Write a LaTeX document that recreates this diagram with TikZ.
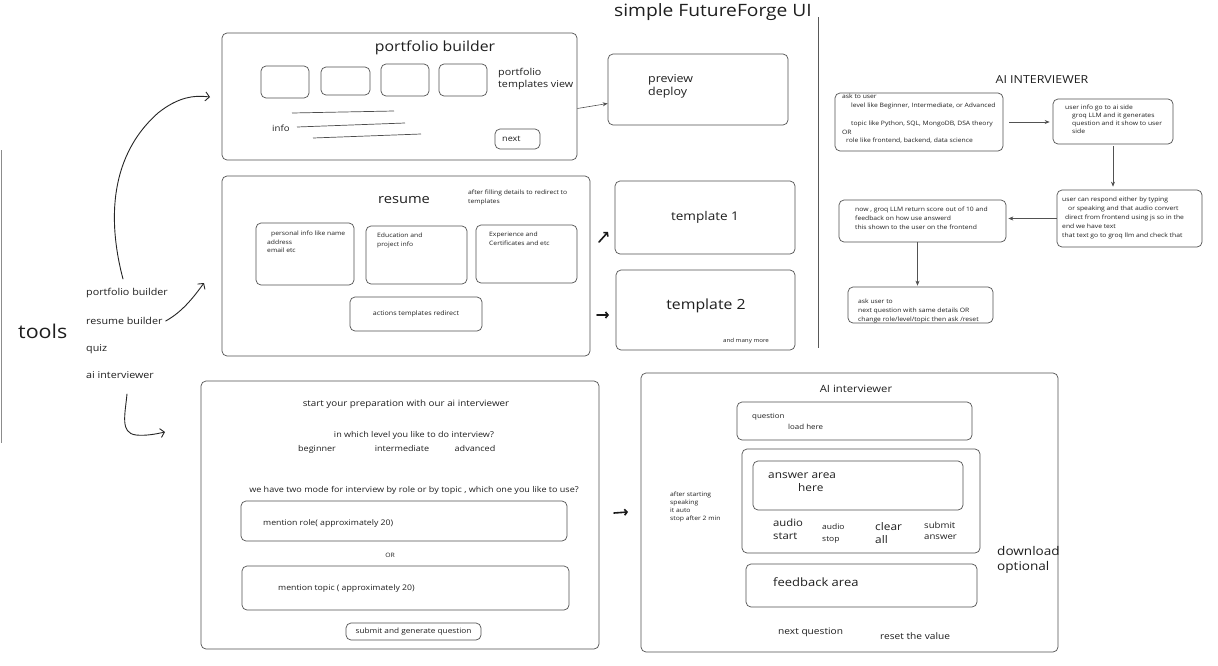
\documentclass[tikz,border=0pt]{standalone}
\usepackage{fontspec}
\setmainfont{Open Sans}[FakeStretch=1.13]
\usetikzlibrary{fit,arrows.meta,calc}
\newcommand\fsz[2]{\fontsize{#1}{#2}\selectfont}
\tikzset{
  box/.style={draw=black!68, line width=0.7pt, rounded corners=5pt, inner sep=0pt},
  t/.style={inner sep=0pt, text=black!88},
  ml/.style={t, align=left, anchor=north west},
  arr/.style={draw=black!68, line width=0.6pt, -{Stealth[length=5pt,width=4pt]}},
  hand/.style={draw=black!85, line width=0.9pt, line cap=round, -{Straight Barb[length=4pt,width=9pt]}},
  tinyarr/.style={draw=black!90, line width=1.6pt, line cap=round, -{Straight Barb[length=2.5pt,width=6pt]}},
  sepline/.style={draw=black!65, line width=0.6pt}
}
\begin{document}
\begin{tikzpicture}[x=1pt,y=-1pt]
\useasboundingbox (0,0) rectangle (1218,665);
\fill[white] (0,0) rectangle (1218,665);

% title and separators
\node[t, font=\fsz{17}{20}] (title) at (713,12) {simple FutureForge UI};
\draw[sepline] (818,17) -- (818,348);
\draw[draw=black!45, line width=0.6pt] (1,150) -- (1,443);

% ---------- portfolio builder ----------
\node[box, fit={(222,33)(577,160)}] (pf) {};
\node[t, font=\fsz{14}{16}] (pftitle) at (435,48) {portfolio builder};
\node[box, fit={(261,66)(309,98)}] (pfa) {};
\node[box, fit={(321,67)(370,95)}] (pfb) {};
\node[box, fit={(381,64)(429,96)}] (pfc) {};
\node[box, fit={(439,64)(487,96)}] (pfd) {};
\node[ml, font=\fsz{9.5}{12}] (pfview) at (498,68.5) {portfolio\\templates view};
\draw[black!70, line width=0.7pt] (292,113) -- (394,111);
\draw[black!70, line width=0.7pt] (297,127) -- (405,123);
\draw[black!70, line width=0.7pt] (313,138) -- (421,134);
\node[t, anchor=west, font=\fsz{8.5}{10}] (pfinfo) at (272,128) {info};
\node[box, fit={(495,129)(540,149)}] (pfnext) {};
\node[t, anchor=west, font=\fsz{8}{10}] at (502,139) {next};

% preview deploy
\node[box, fit={(608,54)(788,125)}] (pv) {};
\node[ml, font=\fsz{11}{13}] (pvtxt) at (648,74) {preview\\deploy};
\draw[arr] ([yshift=-12pt]pf.east) -- ([yshift=-14pt]pv.west);

% ---------- resume ----------
\node[box, fit={(222,176)(590,356)}] (rs) {};
\node[t, font=\fsz{13}{15}] (rstitle) at (404,200) {resume};
\node[ml, font=\fsz{6}{9}] (rsnote) at (468,190) {after filling details to redirect to\\templates};
\node[box, fit={(256,223)(354,285)}] (rsp) {};
\node[ml, font=\fsz{6}{8.5}] at (267,231) {\hspace*{4pt}personal info like name\\address\\email etc};
\node[box, fit={(366,226)(467,284)}] (rse) {};
\node[ml, font=\fsz{6}{8.5}] at (377,233) {Education and\\project info};
\node[box, fit={(476,225)(577,283)}] (rsx) {};
\node[ml, font=\fsz{6}{8.5}] at (489,232) {Experience and\\Certificates and etc};
\node[box, fit={(350,297)(482,331)}] (rsa) {};
\node[t, font=\fsz{6.3}{8}] at (rsa.center) {actions templates redirect};

% templates
\node[box, fit={(615,181)(795,254)}] (tp1) {};
\node[t, font=\fsz{12}{14}] at (705,217) {template 1};
\node[box, fit={(616,270)(795,350)}] (tp2) {};
\node[t, font=\fsz{14}{16}] at (706,306) {template 2};
\node[t, font=\fsz{5.5}{7}] at (746,341) {and many more};
\coordinate (ta1) at (599,242);
\coordinate (tb1) at (608,232);
\draw[tinyarr] (ta1) -- (tb1);
\coordinate (ta2) at (597,315);
\coordinate (tb2) at (609,315);
\draw[tinyarr] (ta2) -- (tb2);

% ---------- tools ----------
\node[t, anchor=west, font=\fsz{19}{22}] (tools) at (18,331) {tools};
\node[t, anchor=west, font=\fsz{9.5}{11}] (tpf) at (86,293) {portfolio builder};
\node[t, anchor=west, font=\fsz{9.5}{11}] (trs) at (86,321) {resume builder};
\node[t, anchor=west, font=\fsz{9.5}{11}] (tqz) at (86,349) {quiz};
\node[t, anchor=west, font=\fsz{9.5}{11}] (tai) at (86,375) {ai interviewer};
\coordinate (h1) at (210,97);
\coordinate (h2) at (204,283);
\coordinate (h3) at (165,432);
\draw[hand] (123,279) .. controls (110,230) and (105,160) .. (158,113) .. controls (178,97) and (194,95) .. (h1);
\draw[hand] (trs.east) ++(3,0) .. controls (182,312) and (193,298) .. (h2);
\draw[hand] (127,394) .. controls (125,415) and (120,433) .. (136,435) .. controls (146,436) and (156,434) .. (h3);

% ---------- interview setup ----------
\node[box, fit={(201,381)(599,649)}] (is) {};
\node[t, font=\fsz{8.7}{10}] at (406,404) {start your preparation with our ai interviewer};
\node[t, font=\fsz{8}{10}] at (414,435) {in which level you like to do interview?};
\node[t, anchor=base, font=\fsz{8}{10}] at (317,451) {beginner};
\node[t, anchor=base, font=\fsz{8}{10}] at (402,451) {intermediate};
\node[t, anchor=base, font=\fsz{8}{10}] at (475,451) {advanced};
\node[t, font=\fsz{8}{10}] at (414,490) {we have two mode for interview by role or by topic , which one you like to use?};
\node[box, fit={(241,501)(567,541)}] (isrole) {};
\node[t, anchor=west, font=\fsz{7.7}{9}] at (263,523) {mention role( approximately 20)};
\node[t, font=\fsz{6}{8}] at (390,555) {OR};
\node[box, fit={(242,566)(569,610)}] (istopic) {};
\node[t, anchor=west, font=\fsz{7.7}{9}] at (278,588) {mention topic ( approximately 20)};
\node[box, fit={(346,623)(481,640)}] (issub) {};
\node[t, font=\fsz{7.3}{9}] at (issub.center) {submit and generate question};
\coordinate (ta3) at (614,513);
\coordinate (tb3) at (628,512);
\draw[tinyarr] (ta3) -- (tb3);

% ---------- AI interviewer panel ----------
\node[box, fit={(641,373)(1058,652)}] (ai) {};
\node[t, font=\fsz{10}{12}] at (856,389) {AI interviewer};
\node[box, fit={(737,402)(972,440)}] (aiq) {};
\node[ml, font=\fsz{7}{11}] at (752,412.7) {question\\\hspace*{36pt}load here};
\node[box, fit={(742,449)(980,553)}] (aians) {};
\node[box, fit={(753,461)(963,510)}] (aiansin) {};
\node[ml, font=\fsz{10.5}{13}] at (768,473) {answer area\\\hspace*{30pt}here};
\node[ml, font=\fsz{10}{13}] at (773,518.3) {audio\\start};
\node[ml, font=\fsz{7.5}{12}] at (822,523.5) {audio\\stop};
\node[ml, font=\fsz{10.5}{13}] at (875,522) {clear\\all};
\node[ml, font=\fsz{8.5}{11}] at (924,522) {submit\\answer};
\node[ml, font=\fsz{12}{15}] at (997,546.4) {download\\optional};
\node[ml, font=\fsz{6}{8}] at (670,491.2) {after starting\\speaking\\it auto\\stop after 2 min};
\node[box, fit={(746,564)(977,607)}] (aifb) {};
\node[t, anchor=west, font=\fsz{11.5}{13}] at (773,582) {feedback area};
\node[t, anchor=west, font=\fsz{9}{11}] at (778,632) {next question};
\node[t, anchor=west, font=\fsz{9}{11}] at (880,636) {reset the value};

% ---------- AI INTERVIEWER flow ----------
\node[t, font=\fsz{11}{13}] at (1042,80) {AI INTERVIEWER};
\node[box, fit={(835,93)(1003,151)}] (fa) {};
\node[ml, font=\fsz{6}{8.8}] at (842,94.2) {ask to user\\\hspace*{9pt}level like Beginner, Intermediate, or Advanced\\\mbox{}\\\hspace*{9pt}topic like Python, SQL, MongoDB, DSA theory\\OR\\\hspace*{4pt}role like frontend, backend, data science};
\node[box, fit={(1053,99)(1173,144)}] (fb) {};
\node[ml, font=\fsz{6}{8}] at (1065,105.2) {user info go to ai side\\\hspace*{7pt}groq LLM and it generates\\\hspace*{7pt}question and it show to user\\\hspace*{7pt}side};
\node[box, fit={(1057,190)(1202,247)}] (fc) {};
\node[ml, font=\fsz{6}{9}] at (1062,197.2) {user can respond either by typing\\\hspace*{6pt}or speaking and that audio convert\\\hspace*{3pt}direct from frontend using js so in the\\end we have text\\that text go to groq llm and check that};
\node[box, fit={(839,200)(1006,242)}] (fd) {};
\node[ml, font=\fsz{6}{9}] at (855,207.2) {now , groq LLM return score out of 10 and\\feedback on how use answerd\\this shown to the user on the frontend};
\node[box, fit={(848,287)(993,323)}] (fe) {};
\node[ml, font=\fsz{6}{9}] at (858,299.2) {ask user to\\next question with same details OR\\change role/level/topic then ask /reset};

\draw[arr, shorten <=6pt, shorten >=3pt] (fa.east) -- (fa.east -| fb.west);
\draw[arr, shorten <=2pt, shorten >=3pt] (fb.south) -- (fb.south |- fc.north);
\draw[arr, shorten >=2pt] (fc.west) -- (fc.west -| fd.east);
\draw[arr, shorten >=1pt] ([xshift=-5pt]fd.south) -- ([xshift=-5pt]fd.south |- fe.north);
\end{tikzpicture}
\end{document}
